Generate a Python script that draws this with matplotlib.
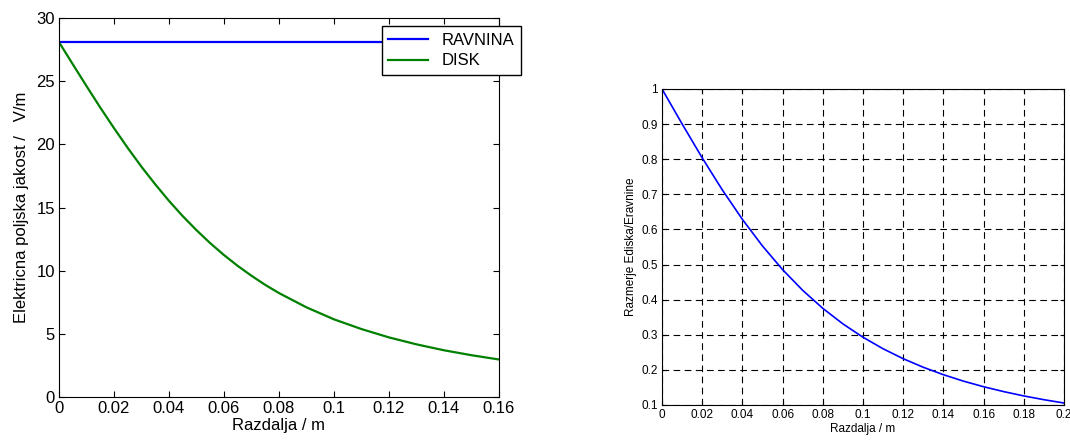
import matplotlib
matplotlib.use("Agg")
import matplotlib.pyplot as plt

plt.rcParams["font.family"] = ["Liberation Sans", "DejaVu Sans"]

# left panel: field strength vs distance
razdalja = [0, 0.005, 0.01, 0.015, 0.02, 0.025, 0.03, 0.035, 0.04, 0.045, 0.05,
            0.055, 0.06, 0.065, 0.07, 0.075, 0.08, 0.09, 0.1, 0.11, 0.12, 0.13,
            0.14, 0.15, 0.16]
ravnina = [28.1] * len(razdalja)
disk = [28.1, 26.35, 24.62, 22.92, 21.29, 19.72, 18.23, 16.84, 15.53, 14.32, 13.21,
        12.18, 11.24, 10.38, 9.60, 8.88, 8.23, 7.10, 6.15, 5.38, 4.72, 4.17,
        3.70, 3.31, 2.97]

# right panel: ratio disk / plane
razdalja2 = [0, 0.01, 0.02, 0.03, 0.04, 0.05, 0.06, 0.07, 0.08, 0.09, 0.1,
             0.11, 0.12, 0.13, 0.14, 0.15, 0.16, 0.17, 0.18, 0.19, 0.2]
razmerje = [1.0, 0.9005, 0.8039, 0.7126, 0.6286, 0.5528, 0.4855, 0.4265, 0.3753,
            0.3310, 0.2929, 0.2601, 0.2318, 0.2074, 0.1863, 0.1679, 0.1520,
            0.1381, 0.1258, 0.1151, 0.1056]

fig = plt.figure(figsize=(10.7, 4.43), dpi=100)

ax1 = fig.add_axes([0.0551, 0.1038, 0.4112, 0.8555])
ax1.plot(razdalja, ravnina, color="#0000ff", linewidth=1.6, label="RAVNINA")
ax1.plot(razdalja, disk, color="#008000", linewidth=1.6, label="DISK")
ax1.set_xlim(0, 0.16)
ax1.set_ylim(0, 30)
ax1.set_xticks([0, 0.02, 0.04, 0.06, 0.08, 0.1, 0.12, 0.14, 0.16])
ax1.set_xticklabels(["0", "0.02", "0.04", "0.06", "0.08", "0.1", "0.12", "0.14", "0.16"])
ax1.set_yticks([0, 5, 10, 15, 20, 25, 30])
ax1.tick_params(direction="in", top=True, right=True, labelsize=12, length=4, pad=3)
ax1.set_xlabel("Razdalja / m", fontsize=12, labelpad=1)
ax1.set_ylabel("Elektricna poljska jakost /   V/m", fontsize=12, labelpad=5)
leg = ax1.legend(loc="upper right", bbox_to_anchor=(1.05, 0.979), borderaxespad=0,
                 fontsize=12, fancybox=False, edgecolor="black", framealpha=1,
                 handlelength=2.4, borderpad=0.4, labelspacing=0.35)
leg.get_frame().set_linewidth(1.0)

ax2 = fig.add_axes([0.6187, 0.0858, 0.3757, 0.7133])
ax2.plot(razdalja2, razmerje, color="#0000ff", linewidth=1.2)
ax2.set_xlim(0, 0.2)
ax2.set_ylim(0.1, 1)
ax2.set_xticks([0, 0.02, 0.04, 0.06, 0.08, 0.1, 0.12, 0.14, 0.16, 0.18, 0.2])
ax2.set_xticklabels(["0", "0.02", "0.04", "0.06", "0.08", "0.1", "0.12", "0.14",
                     "0.16", "0.18", "0.2"])
ax2.set_yticks([0.1, 0.2, 0.3, 0.4, 0.5, 0.6, 0.7, 0.8, 0.9, 1])
ax2.set_yticklabels(["0.1", "0.2", "0.3", "0.4", "0.5", "0.6", "0.7", "0.8", "0.9", "1"])
ax2.grid(True, color="black", linestyle=(0, (6, 4)), linewidth=0.8)
ax2.tick_params(direction="in", top=True, right=True, labelsize=8.5, length=3, pad=3)
ax2.set_xlabel("Razdalja / m", fontsize=8.5, labelpad=1)
ax2.set_ylabel("Razmerje Ediska/Eravnine", fontsize=8.5, labelpad=3)

fig.savefig("out.png", dpi=100)
